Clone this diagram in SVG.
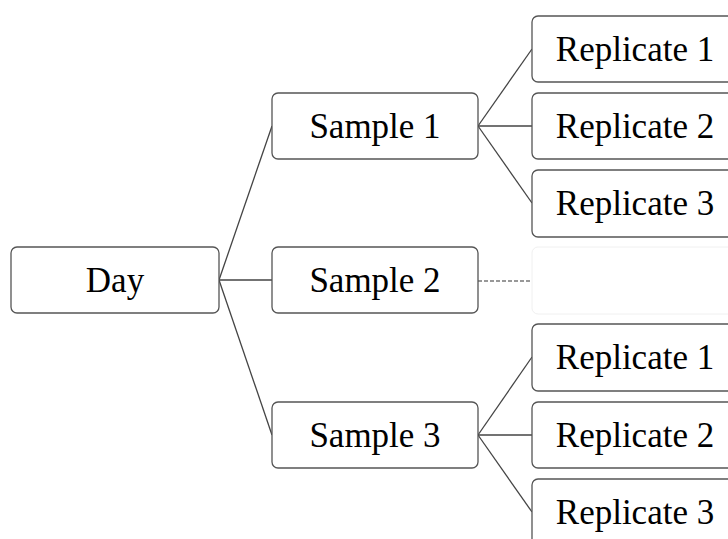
<svg xmlns="http://www.w3.org/2000/svg" width="728" height="539" viewBox="0 0 728 539">
<style>
.box{fill:#fff;stroke:#555;stroke-width:1.3}
.ghost{fill:#fff;stroke:#f0f0f0;stroke-width:1}
.lbl{font-family:"Liberation Serif","Times New Roman",serif;font-size:35px;fill:#000;text-anchor:middle}
.ln{stroke:#444;stroke-width:1.3;fill:none}
.dash{stroke:#777;stroke-width:1.3;stroke-dasharray:4 2;fill:none}
</style>
<rect width="728" height="539" fill="#fff"/>
<g id="connectors">
<line class="ln" x1="219" y1="280" x2="272" y2="126"/>
<line class="ln" x1="219" y1="280" x2="272" y2="280"/>
<line class="ln" x1="219" y1="280" x2="272" y2="435"/>
<line class="ln" x1="478" y1="126" x2="532" y2="49"/>
<line class="ln" x1="478" y1="126" x2="532" y2="126"/>
<line class="ln" x1="478" y1="126" x2="532" y2="203"/>
<line class="dash" x1="478" y1="281" x2="532" y2="281"/>
<line class="ln" x1="478" y1="435" x2="532" y2="357"/>
<line class="ln" x1="478" y1="435" x2="532" y2="435"/>
<line class="ln" x1="478" y1="435" x2="532" y2="512"/>
</g>
<g id="day"><rect class="box" x="11" y="247" width="208" height="66" rx="6"/><text class="lbl" x="115" y="292">Day</text></g>
<g id="sample1"><rect class="box" x="272" y="93" width="206" height="66" rx="6"/><text class="lbl" x="375" y="138">Sample 1</text></g>
<g id="sample2"><rect class="box" x="272" y="247" width="206" height="66" rx="6"/><text class="lbl" x="375" y="292">Sample 2</text></g>
<g id="sample3"><rect class="box" x="272" y="402" width="206" height="66" rx="6"/><text class="lbl" x="375" y="447">Sample 3</text></g>
<g id="s1r1"><rect class="box" x="532" y="16" width="206" height="66" rx="6"/><text class="lbl" x="635" y="61">Replicate 1</text></g>
<g id="s1r2"><rect class="box" x="532" y="93" width="206" height="66" rx="6"/><text class="lbl" x="635" y="138">Replicate 2</text></g>
<g id="s1r3"><rect class="box" x="532" y="170" width="206" height="67" rx="6"/><text class="lbl" x="635" y="215">Replicate 3</text></g>
<g id="s2ghost"><rect class="ghost" x="532" y="247" width="206" height="67" rx="6"/></g>
<g id="s3r1"><rect class="box" x="532" y="324" width="206" height="67" rx="6"/><text class="lbl" x="635" y="369">Replicate 1</text></g>
<g id="s3r2"><rect class="box" x="532" y="402" width="206" height="66" rx="6"/><text class="lbl" x="635" y="447">Replicate 2</text></g>
<g id="s3r3"><rect class="box" x="532" y="479" width="206" height="67" rx="6"/><text class="lbl" x="635" y="524">Replicate 3</text></g>
</svg>
